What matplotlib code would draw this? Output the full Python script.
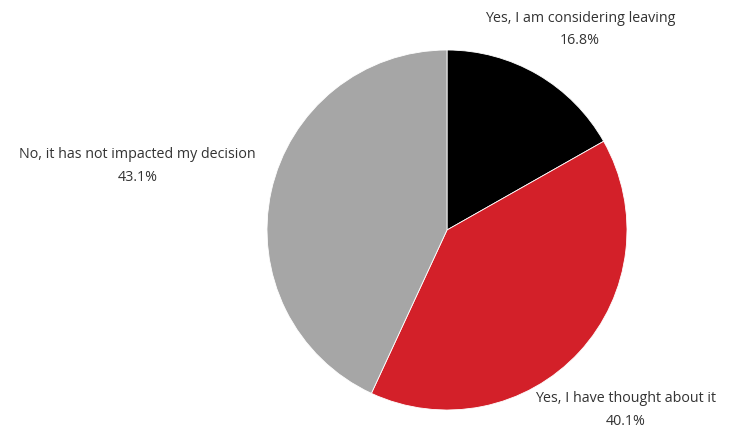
import matplotlib
matplotlib.use("Agg")
import matplotlib.pyplot as plt

labels = ["Yes, I am considering leaving", "Yes, I have thought about it",
          "No, it has not impacted my decision"]
shares = [16.8, 40.1, 43.1]
colors = ["#000000", "#d32029", "#a6a6a6"]

# where each label block sits, in pie radius units
label_pos = [(0.74, 1.12), (0.99, -0.995), (-1.72, 0.36)]

fig = plt.figure(figsize=(7.55, 4.31), dpi=100)
cx, cy, r = 447, 431 - 231, 180
ax = fig.add_axes([(cx - r) / 755, (cy - r) / 431, 2 * r / 755, 2 * r / 431])

ax.pie(shares, colors=colors, startangle=90, counterclock=False, radius=1,
       wedgeprops=dict(edgecolor="white", linewidth=0.6))
ax.set_xlim(-1, 1)
ax.set_ylim(-1, 1)
ax.axis("off")

for lab, val, (x, y) in zip(labels, shares, label_pos):
    ax.text(x, y, f"{lab}\n{val:.1f}%", ha="center", va="center",
            fontsize=10.3, family="Open Sans", color="#333333",
            linespacing=1.7, clip_on=False)

fig.savefig("out.png", dpi=100)
